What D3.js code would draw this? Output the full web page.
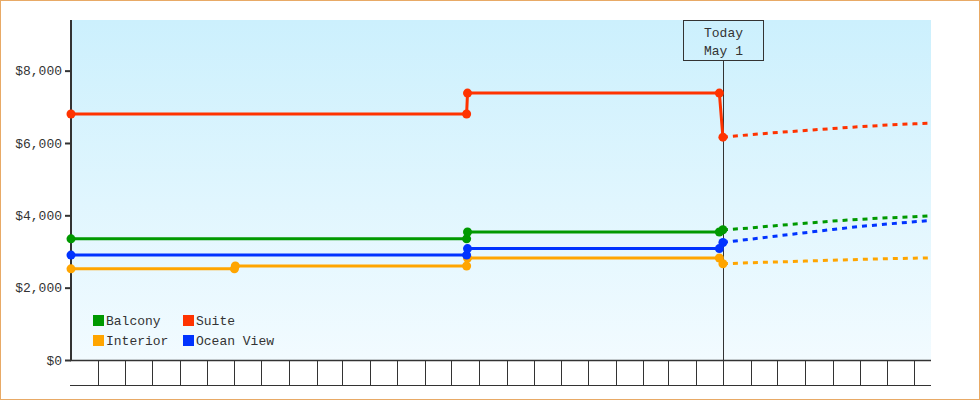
<!DOCTYPE html>
<html><head><meta charset="utf-8">
<script src="https://cdn.jsdelivr.net/npm/d3@7/dist/d3.min.js"></script>
<style>
html,body{margin:0;padding:0;background:#fff;}
svg{display:block;}
text{font-family:"Liberation Mono",monospace;font-size:13px;fill:#333;}
</style></head><body>
<svg id="chart" width="980" height="400"></svg>
<script>
// ---- data ----
const seriesNames = ["Balcony", "Suite", "Interior", "Ocean View"];
const seriesColors = ["#009900", "#ff3300", "#ffa500", "#0033ff"];
const todayDate = "2025-05-01";
const todayLabel = ["Today", "May 1"];
const yTicks = [0, 2000, 4000, 6000, 8000];
const xDomain = ["2023-05-02", "2025-12-20"];

const histDates = ["2023-05-02", "2024-07-18", "2024-07-19", "2025-04-27", "2025-05-01"];
const balconyHist = [3350, 3350, 3540, 3540, 3600];
const suiteHist = [6800, 6800, 7380, 7380, 6160];
const oceanHist = [2900, 2900, 3080, 3080, 3250];
const interiorHistDates = ["2023-05-02", "2023-11-01", "2023-11-02", "2024-07-18", "2024-07-19", "2025-04-27", "2025-05-01"];
const interiorHist = [2520, 2520, 2600, 2600, 2820, 2820, 2660];

const fcDates = ["2025-05-01", "2025-06-01", "2025-07-01", "2025-08-01", "2025-09-01", "2025-10-01", "2025-11-01", "2025-12-01", "2025-12-20"];
const balconyFc = [3600, 3650, 3720, 3780, 3840, 3890, 3930, 3960, 3990];
const suiteFc = [6160, 6230, 6290, 6345, 6400, 6450, 6495, 6530, 6550];
const oceanFc = [3250, 3340, 3430, 3520, 3610, 3690, 3760, 3820, 3860];
const interiorFc = [2660, 2690, 2710, 2735, 2760, 2780, 2800, 2815, 2825];

// ---- layout ----
const parse = d3.utcParse("%Y-%m-%d");
const W = 980, H = 400;
const plot = {left: 71, right: 931, top: 20, bottom: 360};
const svg = d3.select("#chart");

const x = d3.scaleUtc().domain(xDomain.map(parse)).range([plot.left, plot.right]);
const y = d3.scaleLinear().domain([0, 9400]).range([plot.bottom, plot.top]);

const defs = svg.append("defs");
const grad = defs.append("linearGradient").attr("id", "bg").attr("x1", 0).attr("y1", 0).attr("x2", 0).attr("y2", 1);
grad.append("stop").attr("offset", "0%").attr("stop-color", "#ccf0fd");
grad.append("stop").attr("offset", "100%").attr("stop-color", "#f2fbff");

// outer border
svg.append("rect").attr("x", 0.5).attr("y", 0.5).attr("width", W - 1).attr("height", H - 1)
  .attr("fill", "#fff").attr("stroke", "#e8aa66");

// plot bg
svg.append("rect").attr("x", plot.left).attr("y", plot.top)
  .attr("width", plot.right - plot.left).attr("height", plot.bottom - plot.top)
  .attr("fill", "url(#bg)");

// bottom cells (monthly)
const months = d3.utcMonth.range(x.domain()[0], x.domain()[1]);
const cells = svg.append("g");
cells.selectAll("line.m").data(months).join("line")
  .attr("x1", d => Math.round(x(d)) + 0.5).attr("x2", d => Math.round(x(d)) + 0.5)
  .attr("y1", plot.bottom).attr("y2", 385)
  .attr("stroke", "#333").attr("stroke-width", 1);
cells.append("line").attr("x1", 70).attr("x2", plot.right).attr("y1", 385.5).attr("y2", 385.5)
  .attr("stroke", "#333").attr("stroke-width", 1);
cells.append("line").attr("x1", 70).attr("x2", plot.right).attr("y1", plot.bottom + 0.5).attr("y2", plot.bottom + 0.5)
  .attr("stroke", "#333").attr("stroke-width", 1.5);

// today line and box
const tx = Math.round(x(parse(todayDate))) + 0.5;
svg.append("line").attr("x1", tx).attr("x2", tx).attr("y1", 60).attr("y2", 385)
  .attr("stroke", "#333").attr("stroke-width", 1);
svg.append("rect").attr("x", tx - 40).attr("y", 20.5).attr("width", 80).attr("height", 40)
  .attr("fill", "none").attr("stroke", "#333").attr("stroke-width", 1);
svg.append("text").attr("x", tx).attr("y", 37).attr("text-anchor", "middle").text(todayLabel[0]);
svg.append("text").attr("x", tx).attr("y", 55).attr("text-anchor", "middle").text(todayLabel[1]);

// y axis
const yAxis = d3.axisLeft(y).tickValues(yTicks).tickSize(6).tickPadding(3)
  .tickFormat(d => "$" + d3.format(",")(d));
const ga = svg.append("g").attr("transform", `translate(${plot.left},0)`).call(yAxis);
ga.select(".domain").remove();
ga.selectAll(".tick line").attr("stroke", "#333").attr("stroke-width", 2);
ga.selectAll(".tick text").attr("font-family", "Liberation Mono").attr("font-size", 13).attr("fill", "#333");
svg.append("line").attr("x1", plot.left).attr("x2", plot.left).attr("y1", plot.top).attr("y2", plot.bottom + 1)
  .attr("stroke", "#333").attr("stroke-width", 2);

// series
const series = [
  {name: seriesNames[2], color: seriesColors[2], hd: interiorHistDates, hv: interiorHist, fv: interiorFc},
  {name: seriesNames[3], color: seriesColors[3], hd: histDates, hv: oceanHist, fv: oceanFc},
  {name: seriesNames[0], color: seriesColors[0], hd: histDates, hv: balconyHist, fv: balconyFc},
  {name: seriesNames[1], color: seriesColors[1], hd: histDates, hv: suiteHist, fv: suiteFc},
];
const line = d3.line().x(d => x(d[0])).y(d => y(d[1]));
series.forEach(s => {
  const hist = s.hd.map((d, i) => [parse(d), s.hv[i]]);
  const fc = fcDates.map((d, i) => [parse(d), s.fv[i]]);
  svg.append("path").datum(fc).attr("d", line).attr("fill", "none")
    .attr("stroke", s.color).attr("stroke-width", 3).attr("stroke-dasharray", "5,5");
  svg.append("path").datum(hist).attr("d", line).attr("fill", "none")
    .attr("stroke", s.color).attr("stroke-width", 3);
  svg.append("g").selectAll("circle").data(hist).join("circle")
    .attr("cx", d => x(d[0])).attr("cy", d => y(d[1])).attr("r", 4.5).attr("fill", s.color);
});

// legend
const legend = svg.append("g");
const legPos = [[93, 315], [183, 315], [93, 335], [183, 335]];
seriesNames.forEach((n, i) => {
  const [lx, ly] = legPos[i];
  legend.append("rect").attr("x", lx).attr("y", ly).attr("width", 11).attr("height", 11).attr("fill", seriesColors[i]);
  legend.append("text").attr("x", lx + 13).attr("y", ly + 10).text(n);
});
</script>
</body></html>
